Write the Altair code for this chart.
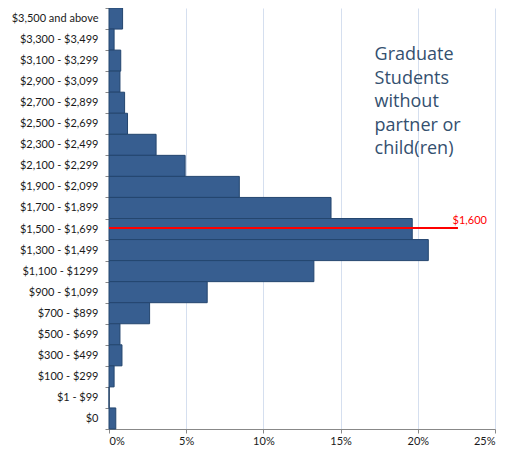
import altair as alt
import pandas as pd

categories = [
    "$3,500 and above", "$3,300 - $3,499", "$3,100 - $3,299", "$2,900 - $3,099",
    "$2,700 - $2,899", "$2,500 - $2,699", "$2,300 - $2,499", "$2,100 - $2,299",
    "$1,900 - $2,099", "$1,700 - $1,899", "$1,500 - $1,699", "$1,300 - $1,499",
    "$1,100 - $1299", "$900 - $1,099", "$700 - $899", "$500 - $699",
    "$300 - $499", "$100 - $299", "$1 - $99", "$0",
]
percents = [0.88, 0.33, 0.76, 0.71, 1.01, 1.20, 3.05, 4.93, 8.44, 14.38,
            19.64, 20.68, 13.27, 6.36, 2.63, 0.71, 0.84, 0.33, 0.0, 0.44]

median_category = "$1,500 - $1,699"
median_label = "$1,600"
median_line_end = 22.6
annotation = ["Graduate", "Students", "without", "partner or", "child(ren)"]
x_ticks = [0, 5, 10, 15, 20, 25]

FONT = "Lato"

df = pd.DataFrame({"category": categories, "pct": percents})

y_enc = alt.Y(
    "category:N",
    sort=categories,
    scale=alt.Scale(paddingInner=0, paddingOuter=0),
    axis=alt.Axis(
        title=None, tickBand="extent", labelFont=FONT, labelFontSize=11,
        labelColor="#1a1a1a", labelPadding=7, tickSize=4, tickColor="#888888",
        domainColor="#888888", grid=False,
    ),
)
x_scale = alt.Scale(domain=[0, 25], nice=False)

bars = alt.Chart(df).mark_bar(
    color="#375E90", stroke="#24466F", strokeWidth=1
).encode(
    x=alt.X(
        "pct:Q", scale=x_scale,
        axis=alt.Axis(
            title=None, values=x_ticks, labelExpr="datum.value + '%'",
            labelFont=FONT, labelFontSize=11, labelColor="#1a1a1a",
            gridColor="#D5DFEF", grid=True, tickColor="#888888",
            domainColor="#888888", tickSize=4, labelPadding=2,
        ),
    ),
    y=y_enc,
)

med_df = pd.DataFrame({"category": [median_category], "start": [0.0],
                       "end": [median_line_end], "label": [median_label]})

rule = alt.Chart(med_df).mark_rule(color="#FF0000", strokeWidth=2, yOffset=-1).encode(
    x=alt.X("start:Q", scale=x_scale),
    x2="end:Q",
    y=alt.Y("category:N", sort=categories),
)

rule_text = alt.Chart(med_df).mark_text(
    color="#FF0000", font=FONT, fontSize=11, align="right", baseline="bottom",
    dx=29, dy=-3,
).encode(
    x=alt.X("end:Q", scale=x_scale),
    y=alt.Y("category:N", sort=categories),
    text="label:N",
)

ann_df = pd.DataFrame({"x": [17.2], "t": ["\n".join(annotation)]})
ann = alt.Chart(ann_df).mark_text(
    align="left", baseline="top", font="Open Sans", fontSize=18,
    color="#34506F", lineHeight=23.5, lineBreak="\n",
).encode(
    x=alt.X("x:Q", scale=x_scale),
    y=alt.value(38),
    text="t:N",
)

chart = alt.layer(bars, rule, rule_text, ann).properties(
    width=386, height=421,
    padding={"left": 101, "top": 0, "right": 11, "bottom": 19},
    autosize=alt.AutoSizeParams(type="none"),
).configure_view(stroke=None)

chart.save("out.html", embed_options={"renderer": "svg", "actions": False})
